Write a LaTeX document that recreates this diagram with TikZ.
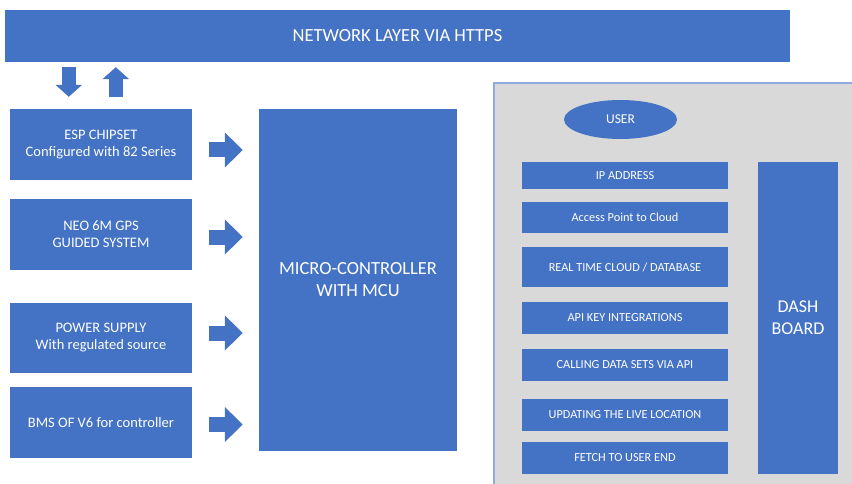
\documentclass[tikz,border=0pt]{standalone}
\usepackage{fontspec}
\setmainfont{Carlito}
\usetikzlibrary{arrows.meta,shapes.geometric}

\definecolor{officeblue}{HTML}{4472C4}
\definecolor{panelgrey}{HTML}{D9D9D9}
\definecolor{panelline}{HTML}{8FAADC}

\begin{document}
\begin{tikzpicture}[x=1pt,y=-1pt]
            \tikzset{block/.style = {shape=rectangle, fill=officeblue, text=white, align=center, inner sep=0pt}}
            \tikzset{sidebox/.style = {block, minimum width=182pt, minimum height=71pt, font=\fontsize{14.5}{17}\selectfont}}
            \tikzset{cloudbox/.style = {block, minimum width=206pt, minimum height=32pt, font=\fontsize{12.3}{14}\selectfont}}
            \tikzset{fatarrow/.style = {draw=officeblue, line width=15pt, -{Triangle[length=18pt,width=34pt]}}}
            \tikzset{netarrow/.style = {draw=officeblue, line width=13.5pt, -{Triangle[length=12pt,width=26pt]}}}
            \useasboundingbox (0,0) rectangle (852,484);
            % network layer
            \node[block, minimum width=785pt, minimum height=52pt, font=\fontsize{18.5}{22}\selectfont] (net) at (397.5,36) {NETWORK LAYER VIA HTTPS};
            % modules
            \node[sidebox] (esp) at (101,144.5) {ESP CHIPSET\\Configured with 82 Series};
            \node[sidebox] (gps) at (101,234.5) {NEO 6M GPS\\GUIDED SYSTEM};
            \node[sidebox, minimum height=70pt] (pwr) at (101,338) {POWER SUPPLY\\With regulated source};
            \node[sidebox] (bms) at (101,422.5) {BMS OF V6 for controller};
            \node[block, minimum width=198pt, minimum height=342pt, font=\fontsize{18.5}{22}\selectfont] (mcu) at (358,280) {MICRO-CONTROLLER\\WITH MCU};
            % cloud side
            \filldraw[fill=panelgrey, draw=panelline, line width=2.5pt] (494,83) rectangle (870,500);
            \node[block, shape=ellipse, minimum width=113pt, minimum height=39pt, font=\fontsize{13.5}{16}\selectfont] (user) at (620.5,119.5) {USER};
            \node[cloudbox, minimum height=27pt] (ip) at (625,175.5) {IP ADDRESS};
            \node[cloudbox, minimum height=31pt] (ap) at (625,217.5) {Access Point to Cloud};
            \node[cloudbox, minimum height=40pt] (rt) at (625,267) {REAL TIME CLOUD / DATABASE};
            \node[cloudbox] (api) at (625,318) {API KEY INTEGRATIONS};
            \node[cloudbox] (call) at (625,365) {CALLING DATA SETS VIA API};
            \node[cloudbox] (upd) at (625,415) {UPDATING THE LIVE LOCATION};
            \node[cloudbox] (fetch) at (625,458) {FETCH TO USER END};
            \node[block, minimum width=80pt, minimum height=312pt, font=\fontsize{18}{22}\selectfont] (dash) at (798,318) {DASH\\BOARD};
            % arrows
            \draw[netarrow] ([shift={(64pt,-5pt)}]net.south west) -- ([shift={(59pt,12pt)}]esp.north west);
            \draw[netarrow] ([shift={(106pt,12pt)}]esp.north west) -- ([shift={(111pt,-5pt)}]net.south west);
            \draw[fatarrow] ([shift={(17pt,-5.5pt)}]esp.east) -- ([shift={(-16pt,130pt)}]mcu.west);
            \draw[fatarrow] ([shift={(17pt,-2.5pt)}]gps.east) -- ([shift={(-16pt,43pt)}]mcu.west);
            \draw[fatarrow] ([shift={(17pt,5pt)}]pwr.east) -- ([shift={(-16pt,-53pt)}]mcu.west);
            \draw[fatarrow] ([shift={(17pt,-2pt)}]bms.east) -- ([shift={(-16pt,-144.5pt)}]mcu.west);
        \end{tikzpicture}
\end{document}
